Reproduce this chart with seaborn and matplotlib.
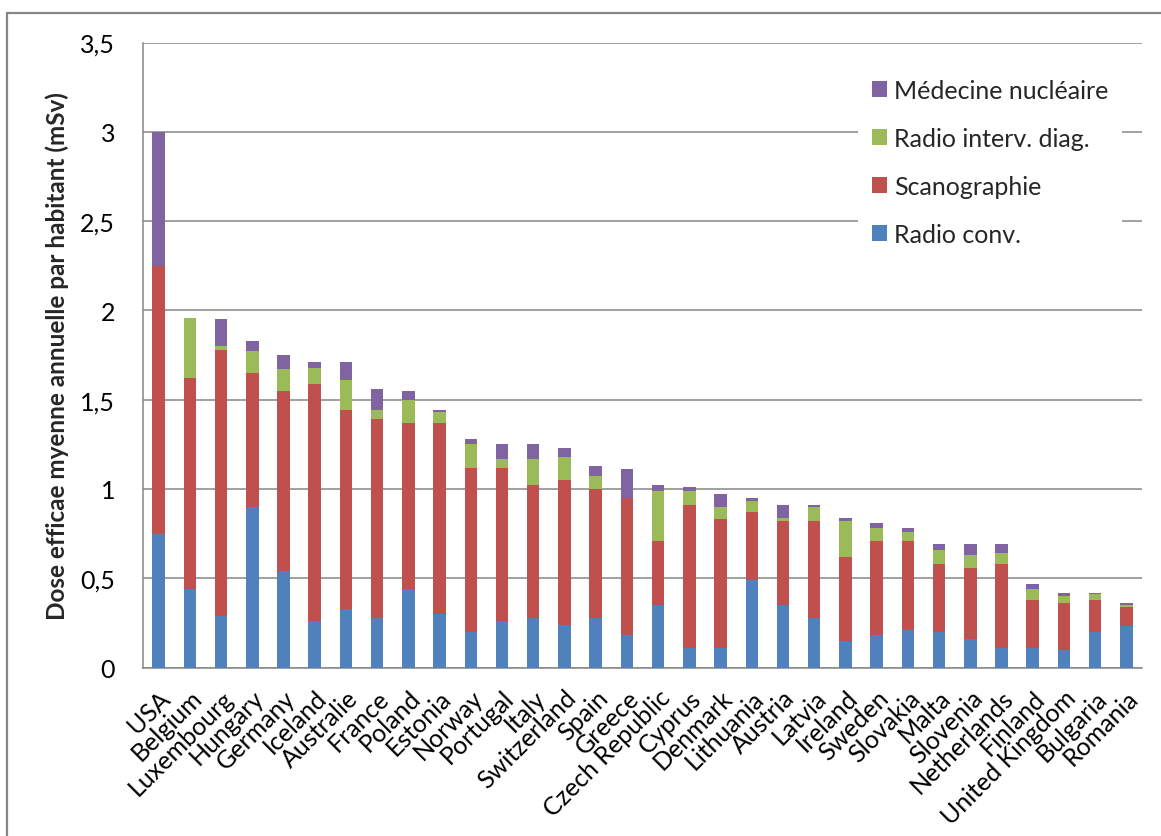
import matplotlib
matplotlib.use("Agg")
import matplotlib.pyplot as plt
from matplotlib.patches import Patch, Rectangle
import numpy as np
import pandas as pd
import seaborn as sns

countries = ["USA", "Belgium", "Luxembourg", "Hungary", "Germany", "Iceland",
             "Australie", "France", "Poland", "Estonia", "Norway", "Portugal",
             "Italy", "Switzerland", "Spain", "Greece", "Czech Republic", "Cyprus",
             "Denmark", "Lithuania", "Austria", "Latvia", "Ireland", "Sweden",
             "Slovakia", "Malta", "Slovenia", "Netherlands", "Finland",
             "United Kingdom", "Bulgaria", "Romania"]

radio_conv = [0.75, 0.44, 0.29, 0.90, 0.54, 0.26, 0.33, 0.28, 0.44, 0.30,
              0.20, 0.26, 0.28, 0.24, 0.28, 0.18, 0.35, 0.11, 0.11, 0.49,
              0.35, 0.28, 0.15, 0.18, 0.21, 0.20, 0.16, 0.11, 0.11, 0.10,
              0.20, 0.23]
scanographie = [1.50, 1.18, 1.49, 0.75, 1.01, 1.33, 1.11, 1.11, 0.93, 1.07,
                0.92, 0.86, 0.74, 0.81, 0.72, 0.77, 0.36, 0.80, 0.72, 0.38,
                0.47, 0.54, 0.47, 0.53, 0.50, 0.38, 0.40, 0.47, 0.27, 0.26,
                0.18, 0.11]
radio_interv = [0.00, 0.34, 0.02, 0.12, 0.12, 0.09, 0.17, 0.05, 0.13, 0.06,
                0.13, 0.05, 0.15, 0.13, 0.07, 0.00, 0.28, 0.08, 0.07, 0.06,
                0.02, 0.08, 0.20, 0.07, 0.05, 0.08, 0.07, 0.06, 0.06, 0.04,
                0.03, 0.01]
medecine_nucl = [0.75, 0.00, 0.15, 0.06, 0.08, 0.03, 0.10, 0.12, 0.05, 0.01,
                 0.03, 0.08, 0.08, 0.05, 0.06, 0.16, 0.03, 0.02, 0.07, 0.02,
                 0.07, 0.01, 0.02, 0.03, 0.02, 0.03, 0.06, 0.05, 0.03, 0.02,
                 0.01, 0.01]

series_names = ["Radio conv.", "Scanographie", "Radio interv. diag.", "Médecine nucléaire"]
series_colors = ["#4F81BD", "#C0504D", "#9BBB59", "#8064A2"]
y_ticks = [0, 0.5, 1, 1.5, 2, 2.5, 3, 3.5]
y_tick_labels = ["0", "0,5", "1", "1,5", "2", "2,5", "3", "3,5"]
y_label = "Dose efficae myenne annuelle par habitant (mSv)"

df = pd.DataFrame({
    "country": countries,
    series_names[0]: radio_conv,
    series_names[1]: scanographie,
    series_names[2]: radio_interv,
    series_names[3]: medecine_nucl,
})
# cumulative tops for the stacked layers
cum = df[series_names].cumsum(axis=1)

sns.set_theme(style="white")
plt.rcParams["font.family"] = ["Lato", "DejaVu Sans"]

W, H = 1161, 837
fig = plt.figure(figsize=(W / 100, H / 100), dpi=100)
ax = fig.add_axes([143 / W, 1 - 668.5 / H, (1142 - 143) / W, (668.5 - 43.5) / H])

grid_color = "#868686"

# draw from the tallest cumulative layer down so each lower layer overlays it
for name, color in reversed(list(zip(series_names, series_colors))):
    sns.barplot(x=df["country"], y=cum[name], color=color, width=0.4,
                saturation=1, ax=ax, zorder=3, linewidth=0)

ax.set_xlim(-0.5, len(countries) - 0.5)
ax.set_ylim(0, 3.5)
ax.set_yticks(y_ticks)
ax.set_yticklabels(y_tick_labels, fontsize=18)
ax.set_xlabel("")
ax.set_ylabel(y_label, fontsize=17.5, fontweight="bold", labelpad=8)

ax.yaxis.grid(True, color=grid_color, linewidth=1.1, zorder=0)
ax.set_axisbelow(True)

for side in ["top", "right"]:
    ax.spines[side].set_visible(False)
for side in ["left", "bottom"]:
    ax.spines[side].set_color(grid_color)
    ax.spines[side].set_linewidth(1.1)

ax.tick_params(axis="y", which="major", direction="out", length=9, width=1.1,
               color=grid_color, pad=11, labelcolor="black")
ax.set_xticks(range(len(countries)))
ax.set_xticklabels(countries, rotation=45, ha="right", rotation_mode="anchor",
                   fontsize=18)
ax.tick_params(axis="x", which="major", length=0, pad=13, labelcolor="black")
ax.set_xticks(np.arange(-0.5, len(countries), 1.0), minor=True)
ax.tick_params(axis="x", which="minor", direction="out", length=9, width=1.1,
               color=grid_color)

handles = [Patch(facecolor=c, edgecolor="none", label=n)
           for n, c in zip(series_names, series_colors)][::-1]
leg = ax.legend(handles=handles, loc="upper left",
                bbox_to_anchor=(858 / W, 1 - 66 / H), bbox_transform=fig.transFigure,
                fontsize=18, frameon=True, facecolor="white", edgecolor="none",
                framealpha=1, fancybox=False, handlelength=0.6, handleheight=0.6,
                handletextpad=0.3, labelspacing=1.0, borderpad=0.55,
                borderaxespad=0)

# outer chart border
fig.patches.append(Rectangle((7 / W, -0.5), 2.0, 1.5 - 14 / H,
                             transform=fig.transFigure, fill=False,
                             edgecolor=grid_color, linewidth=1.6))

fig.savefig("out.png", dpi=100)
